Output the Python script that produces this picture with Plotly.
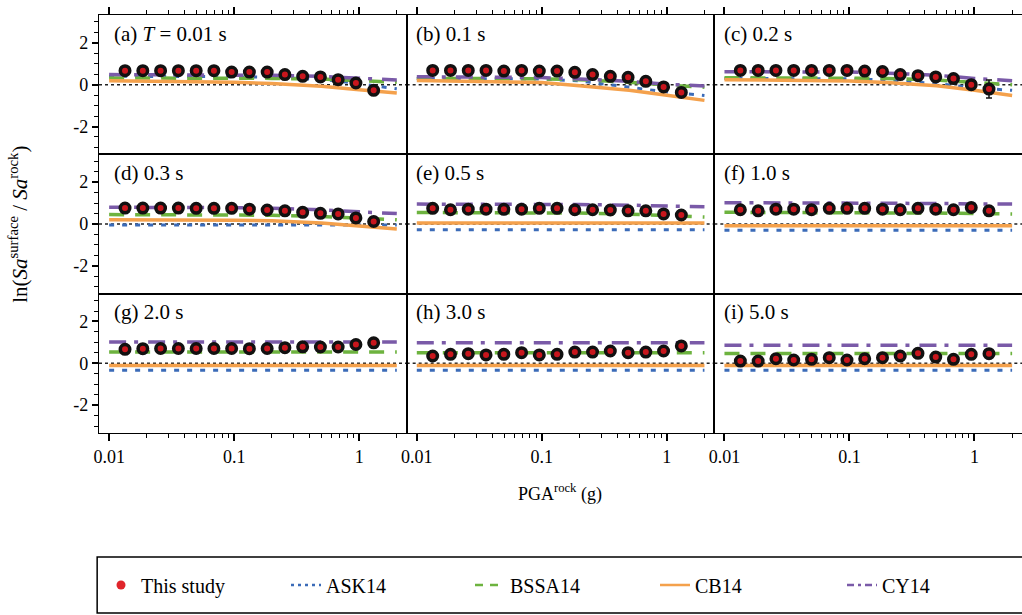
import plotly.graph_objects as go
from plotly.subplots import make_subplots

# ---------------- data ----------------
PGA = [0.0134, 0.0186, 0.0258, 0.0358, 0.0497, 0.0689, 0.0955, 0.1324,
       0.1837, 0.2547, 0.3532, 0.4898, 0.679, 0.942, 1.306]
MODEL_PGA = [0.01, 0.02, 0.05, 0.1, 0.2, 0.5, 1.0, 2.0]

PANEL_LABELS = ["(a) <i>T</i> = 0.01 s", "(b) 0.1 s", "(c) 0.2 s",
                "(d) 0.3 s", "(e) 0.5 s", "(f) 1.0 s",
                "(g) 2.0 s", "(h) 3.0 s", "(i) 5.0 s"]

STUDY_MEAN = [
    [0.67, 0.67, 0.67, 0.67, 0.67, 0.67, 0.60, 0.60, 0.60, 0.48, 0.40, 0.37, 0.24, 0.08, -0.27],
    [0.68, 0.68, 0.68, 0.68, 0.65, 0.68, 0.65, 0.65, 0.59, 0.48, 0.40, 0.35, 0.16, -0.11, -0.37],
    [0.68, 0.68, 0.68, 0.68, 0.68, 0.68, 0.68, 0.65, 0.63, 0.48, 0.43, 0.37, 0.29, 0.00, -0.21],
    [0.76, 0.76, 0.76, 0.76, 0.75, 0.75, 0.75, 0.71, 0.67, 0.63, 0.56, 0.51, 0.48, 0.29, 0.12],
    [0.75, 0.68, 0.71, 0.71, 0.70, 0.71, 0.75, 0.75, 0.68, 0.68, 0.67, 0.63, 0.63, 0.48, 0.43],
    [0.68, 0.63, 0.71, 0.71, 0.68, 0.75, 0.75, 0.75, 0.71, 0.68, 0.75, 0.71, 0.68, 0.79, 0.63],
    [0.67, 0.70, 0.71, 0.71, 0.71, 0.71, 0.71, 0.70, 0.71, 0.75, 0.79, 0.78, 0.78, 0.90, 0.98],
    [0.35, 0.43, 0.46, 0.40, 0.43, 0.51, 0.40, 0.43, 0.54, 0.54, 0.59, 0.51, 0.54, 0.59, 0.83],
    [0.11, 0.11, 0.22, 0.16, 0.19, 0.27, 0.16, 0.22, 0.27, 0.35, 0.48, 0.30, 0.19, 0.43, 0.46],
]
STUDY_ERR = [
    [0.05, 0.05, 0.05, 0.05, 0.05, 0.05, 0.05, 0.05, 0.05, 0.06, 0.06, 0.07, 0.08, 0.10, 0.12],
    [0.05, 0.05, 0.05, 0.05, 0.05, 0.05, 0.05, 0.05, 0.05, 0.06, 0.06, 0.07, 0.10, 0.12, 0.12],
    [0.05, 0.05, 0.05, 0.05, 0.05, 0.05, 0.05, 0.05, 0.05, 0.06, 0.06, 0.07, 0.10, 0.12, 0.43],
    [0.05, 0.05, 0.05, 0.05, 0.05, 0.05, 0.05, 0.05, 0.05, 0.06, 0.06, 0.08, 0.10, 0.14, 0.20],
    [0.05, 0.05, 0.05, 0.05, 0.05, 0.05, 0.05, 0.05, 0.05, 0.06, 0.06, 0.07, 0.08, 0.12, 0.14],
    [0.05, 0.05, 0.05, 0.05, 0.05, 0.05, 0.05, 0.05, 0.05, 0.06, 0.06, 0.07, 0.08, 0.10, 0.12],
    [0.05, 0.05, 0.05, 0.05, 0.05, 0.05, 0.05, 0.05, 0.05, 0.06, 0.06, 0.07, 0.10, 0.14, 0.10],
    [0.05, 0.05, 0.07, 0.05, 0.05, 0.05, 0.05, 0.05, 0.07, 0.06, 0.08, 0.07, 0.08, 0.10, 0.12],
    [0.05, 0.05, 0.07, 0.05, 0.05, 0.08, 0.05, 0.05, 0.07, 0.08, 0.08, 0.07, 0.08, 0.10, 0.12],
]

ASK14 = [
    [0.40, 0.40, 0.40, 0.38, 0.35, 0.25, 0.05, -0.20],
    [0.30, 0.30, 0.30, 0.27, 0.18, -0.12, -0.35, -0.52],
    [0.30, 0.30, 0.30, 0.28, 0.22, 0.05, -0.15, -0.27],
    [-0.05, -0.05, -0.05, -0.05, -0.05, -0.05, -0.05, -0.05],
    [-0.27, -0.27, -0.27, -0.27, -0.27, -0.27, -0.27, -0.27],
    [-0.30, -0.30, -0.30, -0.30, -0.30, -0.30, -0.30, -0.30],
    [-0.33, -0.33, -0.33, -0.33, -0.33, -0.33, -0.33, -0.33],
    [-0.33, -0.33, -0.33, -0.33, -0.33, -0.33, -0.33, -0.33],
    [-0.33, -0.33, -0.33, -0.33, -0.33, -0.33, -0.33, -0.33],
]
BSSA14 = [
    [0.32, 0.32, 0.32, 0.31, 0.30, 0.27, 0.20, 0.12],
    [0.30, 0.30, 0.30, 0.28, 0.24, 0.12, -0.02, -0.12],
    [0.33, 0.33, 0.33, 0.32, 0.30, 0.22, 0.10, 0.00],
    [0.45, 0.45, 0.45, 0.44, 0.42, 0.36, 0.27, 0.20],
    [0.55, 0.55, 0.55, 0.55, 0.52, 0.47, 0.40, 0.33],
    [0.56, 0.56, 0.56, 0.55, 0.54, 0.52, 0.50, 0.48],
    [0.54, 0.54, 0.54, 0.54, 0.54, 0.54, 0.54, 0.54],
    [0.51, 0.51, 0.51, 0.51, 0.51, 0.51, 0.51, 0.51],
    [0.47, 0.47, 0.47, 0.47, 0.47, 0.47, 0.47, 0.47],
]
CB14 = [
    [0.19, 0.18, 0.15, 0.12, 0.05, -0.08, -0.24, -0.40],
    [0.20, 0.18, 0.15, 0.10, -0.05, -0.27, -0.51, -0.75],
    [0.24, 0.23, 0.20, 0.17, 0.10, -0.05, -0.27, -0.52],
    [0.20, 0.20, 0.20, 0.18, 0.15, 0.05, -0.10, -0.24],
    [0.05, 0.05, 0.05, 0.05, 0.05, 0.05, 0.05, 0.05],
    [-0.08, -0.08, -0.08, -0.08, -0.08, -0.08, -0.08, -0.08],
    [-0.10, -0.10, -0.10, -0.10, -0.10, -0.10, -0.10, -0.10],
    [-0.10, -0.10, -0.10, -0.10, -0.10, -0.10, -0.10, -0.10],
    [-0.10, -0.10, -0.10, -0.10, -0.10, -0.10, -0.10, -0.10],
]
CY14 = [
    [0.48, 0.48, 0.48, 0.47, 0.45, 0.40, 0.32, 0.22],
    [0.38, 0.38, 0.37, 0.34, 0.27, 0.16, 0.02, -0.06],
    [0.62, 0.62, 0.61, 0.60, 0.55, 0.45, 0.30, 0.19],
    [0.80, 0.80, 0.79, 0.78, 0.75, 0.68, 0.58, 0.50],
    [0.95, 0.95, 0.95, 0.94, 0.93, 0.90, 0.86, 0.82],
    [1.02, 1.02, 1.02, 1.00, 1.00, 0.98, 0.96, 0.95],
    [1.02, 1.02, 1.02, 1.02, 1.02, 1.02, 1.02, 1.02],
    [0.98, 0.98, 0.98, 0.98, 0.98, 0.98, 0.98, 0.98],
    [0.86, 0.86, 0.86, 0.86, 0.86, 0.86, 0.86, 0.86],
]

X_TICKS = [0.01, 0.1, 1]
X_TICKTEXT = ["0.01", "0.1", "1"]
X_MINOR = [0.02, 0.03, 0.04, 0.05, 0.06, 0.07, 0.08, 0.09,
           0.2, 0.3, 0.4, 0.5, 0.6, 0.7, 0.8, 0.9, 2]
Y_TICKS = [-2, 0, 2]
Y_TICKTEXT = ["-2", "0", "2"]

# ---------------- styles ----------------
FONT = "Times New Roman, Liberation Serif, serif"
C_ASK = "#3b6bb8"
C_BSSA = "#6db33f"
C_CB = "#f4a14c"
C_CY = "#7a5aa8"
C_PT = "#c8161d"

MODELS = [
    ("ASK14", ASK14, dict(color=C_ASK, width=3, dash="5px,8px")),
    ("BSSA14", BSSA14, dict(color=C_BSSA, width=3.5, dash="15px,11px")),
    ("CB14", CB14, dict(color=C_CB, width=3.5)),
    ("CY14", CY14, dict(color=C_CY, width=3.5, dash="17px,8px,4px,10px")),
]
LEGEND_DASH = {"ASK14": "3px,4px", "BSSA14": "8px,7px", "CB14": None, "CY14": "7px,4px,3px,4px"}

fig = make_subplots(rows=3, cols=3, horizontal_spacing=0, vertical_spacing=0)

for k in range(9):
    r, c = k // 3 + 1, k % 3 + 1
    for name, vals, ls in MODELS:
        fig.add_trace(go.Scatter(x=MODEL_PGA, y=vals[k], mode="lines", line=ls,
                                 name=name, showlegend=False, hoverinfo="skip"),
                      row=r, col=c)
    fig.add_trace(go.Scatter(
        x=PGA, y=STUDY_MEAN[k], mode="markers", name="This study", showlegend=False,
        marker=dict(color=C_PT, size=9.5, line=dict(color="#111111", width=3.5)),
        error_y=dict(type="data", array=STUDY_ERR[k], color="#111111", thickness=1.5, width=3)),
        row=r, col=c)

# legend-only traces, each in its own legend for exact placement
LEG_PX = [101, 286, 470, 655, 842]
fig.add_trace(go.Scatter(x=[None], y=[None], mode="markers", name="This study",
                         marker=dict(color="#e0252b", size=9), legend="legend"))
for i, (name, vals, ls) in enumerate(MODELS):
    lw = dict(color=ls["color"], width=2.5)
    if LEGEND_DASH[name]:
        lw["dash"] = LEGEND_DASH[name]
    fig.add_trace(go.Scatter(x=[None], y=[None], mode="lines", name=name, line=lw,
                             legend=f"legend{i + 2}"))

LABEL_X = [0.042, 0.023, 0.026]

# axes
for k in range(9):
    r, c = k // 3 + 1, k % 3 + 1
    xa = dict(type="log", range=[-2.081, 0.380], showline=True, linecolor="black",
              linewidth=1.2, mirror=True, showgrid=False, zeroline=False,
              tickvals=X_TICKS, ticktext=X_TICKTEXT, tickcolor="black", tickwidth=1.5,
              tickfont=dict(family=FONT, size=18, color="black"))
    if r == 1:
        xa.update(side="top", ticks="outside", ticklen=7, showticklabels=False,
                  minor=dict(tickvals=X_MINOR, ticks="outside", ticklen=4,
                             tickcolor="black", tickwidth=1.2))
    elif r == 3:
        xa.update(ticks="outside", ticklen=7, showticklabels=True,
                  minor=dict(tickvals=X_MINOR, ticks="outside", ticklen=4,
                             tickcolor="black", tickwidth=1.2))
    else:
        xa.update(ticks="", showticklabels=False)
    fig.update_xaxes(xa, row=r, col=c)

    ya = dict(range=[-3.33, 3.33], showline=True, linecolor="black", linewidth=1.2,
              mirror=True, showgrid=False, zeroline=False,
              tickvals=Y_TICKS, ticktext=Y_TICKTEXT, tickcolor="black", tickwidth=1.5,
              tickfont=dict(family=FONT, size=18, color="black"))
    if c == 1:
        ya.update(ticks="outside", ticklen=6, showticklabels=True,
                  minor=dict(dtick=0.5, ticks="outside", ticklen=4,
                             tickcolor="black", tickwidth=1.2))
    else:
        ya.update(ticks="", showticklabels=False)
    fig.update_yaxes(ya, row=r, col=c)

    sfx = "" if k == 0 else str(k + 1)
    fig.add_shape(type="line", xref=f"x{sfx} domain", x0=0, x1=1,
                  yref=f"y{sfx}", y0=0, y1=0,
                  line=dict(color="#222222", width=1.5, dash="dot"), layer="below")
    fig.add_annotation(xref=f"x{sfx} domain", yref=f"y{sfx} domain",
                       x=LABEL_X[c - 1], y=0.865,
                       xanchor="left", yanchor="middle", showarrow=False,
                       text=PANEL_LABELS[k],
                       font=dict(family=FONT, size=21, color="black"))

# axis titles
fig.add_annotation(xref="paper", yref="paper", x=-0.088, y=0.5, textangle=-90,
                   showarrow=False, xanchor="center", yanchor="middle",
                   text="ln(<i>Sa</i><sup>surface</sup> / <i>Sa</i><sup>rock</sup>)",
                   font=dict(family=FONT, size=21, color="black"))
fig.add_annotation(xref="paper", yref="paper", x=0.4995, y=-0.1435,
                   showarrow=False, xanchor="center", yanchor="middle",
                   text="PGA<sup>rock</sup> (g)",
                   font=dict(family=FONT, size=18, color="black"))

# legend box
fig.add_shape(type="rect", xref="paper", yref="paper", x0=-0.002, x1=1.01,
              y0=-0.2967, y1=-0.4306, line=dict(color="black", width=1.5))

leg_common = dict(orientation="h", y=-0.3636, xanchor="left", yanchor="middle",
                  bgcolor="rgba(0,0,0,0)", borderwidth=0,
                  font=dict(family=FONT, size=20, color="black"))
legends = {}
for i, px in enumerate(LEG_PX):
    key = "legend" if i == 0 else f"legend{i + 1}"
    legends[key] = dict(leg_common, x=(px - 99) / 923)

fig.update_layout(
    width=1022, height=615,
    margin=dict(l=99, r=0, t=15, b=182),
    paper_bgcolor="white", plot_bgcolor="white",
    showlegend=True,
    font=dict(family=FONT, color="black"),
    **legends,
)

fig.write_html("out.html")
